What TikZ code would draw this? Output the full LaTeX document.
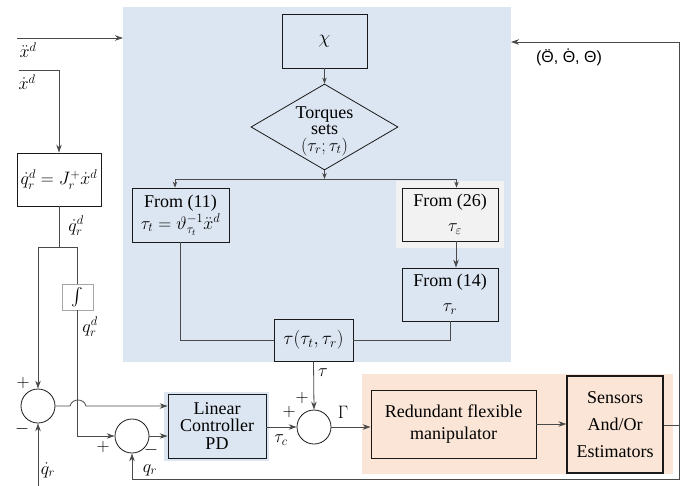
\RequirePackage{fix-cm}
\documentclass[tikz,border=0pt]{standalone}
\usepackage{graphicx}
\usepackage[no-math]{fontspec}
\setmainfont{Liberation Serif}
\setsansfont{Liberation Sans}
\usetikzlibrary{arrows.meta,shapes.geometric,calc}
\definecolor{bluebg}{HTML}{DCE6F2}
\definecolor{graybg}{HTML}{F2F2F2}
\definecolor{orangebg}{HTML}{FBE5D6}
\definecolor{wire}{HTML}{4A4A4A}
\newcommand\capacc[2]{\leavevmode\vbox{\offinterlineskip\ialign{\hfil##\hfil\cr\raisebox{-0.52em}[0pt][0pt]{#1}\cr#2\cr}}}
\begin{document}
\begin{tikzpicture}[x=1pt,y=-1pt,
  font=\fontsize{18}{18}\selectfont,
  blk/.style={draw=black!90, line width=0.8pt, align=center, inner sep=2pt},
  sumc/.style={draw=black!90, circle, line width=0.8pt, minimum size=34pt, inner sep=0pt},
  wr/.style={draw=wire, line width=0.8pt},
  arr/.style={wr, -{Stealth[length=8pt,width=5.5pt]}},
  sarr/.style={wr, -{Stealth[length=6pt,width=4.5pt]}},
  lbl/.style={inner sep=0pt}
]
\useasboundingbox (0,0) rectangle (692,486);
% backgrounds
\fill[bluebg] (123,7) rectangle (511,362);
\fill[graybg] (396,181) rectangle (504,248);
\fill[orangebg] (362,374) rectangle (673,474);
\fill[bluebg] (164,392) rectangle (269,461);

% nodes
\node[blk, minimum width=85pt, minimum height=54pt, font=\fontsize{19}{19}\selectfont] (chi) at (324.5,41) {$\chi$};
\node[diamond, draw=black!90, line width=0.8pt, minimum width=147pt, minimum height=86pt, inner sep=0pt] (dia) at (324.5,127) {};
\node[lbl, align=center, font=\fontsize{18}{16.5}\selectfont] (diat) at (324.5,131) {Torques\\sets\\$(\tau_r;\tau_t)$};
\node[blk, minimum width=97pt, minimum height=54pt, inner sep=1pt, font=\fontsize{18}{22}\selectfont] (f11) at (180.5,215) {From (11)\\$\tau_t=\vartheta_{\tau_t}^{-1}\ddot{x}^d$};
\node[blk, minimum width=96pt, minimum height=53pt, font=\fontsize{18}{25}\selectfont] (f26) at (450,214.5) {From (26)\\\hspace*{10pt}$\tau_\varepsilon$};
\node[blk, minimum width=96pt, minimum height=53pt, font=\fontsize{18}{25}\selectfont] (f14) at (450,294.5) {From (14)\\$\tau_r$};
\node[blk, minimum width=79pt, minimum height=42pt, font=\fontsize{19}{19}\selectfont] (tau) at (313.5,340) {$\tau(\tau_t,\tau_r)$};
\node[blk, minimum width=84pt, minimum height=53pt, inner sep=1pt] (qd) at (59,179.5) {$\dot{q}_r^d=J_r^+\dot{x}^d$};
\node[draw=black!35, line width=0.6pt, minimum width=31pt, minimum height=26pt, inner sep=0pt] (int) at (77.5,297) {\scalebox{1.75}{$\int$}};
\node[sumc] (s1) at (38,406) {};
\node[sumc] (s2) at (132,436) {};
\node[sumc] (s3) at (314,427) {};
\node[blk, minimum width=98pt, minimum height=64pt, font=\fontsize{18}{17.5}\selectfont] (ctrl) at (217,426) {Linear\\Controller\\PD};
\node[blk, minimum width=165pt, minimum height=68pt, font=\fontsize{18}{22}\selectfont] (man) at (453.5,424) {Redundant flexible\\manipulator};
\node[blk, line width=1.3pt, minimum width=96pt, minimum height=97pt, font=\fontsize{18}{27}\selectfont] (sens) at (615,424.5) {Sensors\\And/Or\\Estimators};

% coordinates
\coordinate (br) at (324.5,179);
\coordinate (xdd) at (17,38);
\coordinate (xddin) at (123,38);
\coordinate (xd) at (19,70);
\coordinate (split) at (59,247);
\coordinate (fb) at (679,425);
\coordinate (thin) at (511,42);
\coordinate (cr) at (679,479);
\coordinate (qdr) at (38,486);
\coordinate (j1) at (70,406);
\coordinate (j2) at (86,406);

% connectors in the blue area
\draw[sarr] (chi.south) -- (dia.north);
\draw[sarr] (dia.south) -- (br);
\draw[sarr] (br) -| ([xshift=-5.5pt]f11.north);
\draw[sarr] (br) -| ([xshift=6.5pt]f26.north);
\draw[arr] ([xshift=6pt]f26.south) -- ([xshift=6pt]f14.north);
\draw[wr] (f11.south) |- (tau.west);
\draw[wr] (f14.south) |- (tau.east);

% inputs
\draw[arr] (xdd) -- (xddin);
\draw[arr] (xd) -| (qd.north);
\draw[wr] (qd.south) -- (split);
\draw[arr] (split) -| (s1.north);
\draw[wr] (split) -| (int.north);
\draw[arr] (int.south) |- (s2.west);
\draw[arr] (qdr) -- (s1.south);

% loop
\draw[arr] (s1.east) -- (j1) .. controls (72,398) and (84,398) .. (j2) -- (ctrl.west |- s1.east);
\draw[arr] (s2.east) -- (ctrl.west |- s2.east);
\draw[arr] (ctrl.east |- s3.west) -- (s3.west);
\draw[arr] (tau.south) -- (s3.north);
\draw[arr] (s3.east) -- (man.west |- s3.east);
\draw[arr] (man.east) -- (sens.west |- man.east);
\draw[wr] (sens.east |- fb) -- (fb);
\draw[arr] (fb) |- (thin);
\draw[arr] (fb) -- (cr) -| (s2.south);

% labels
\node[lbl] (lxdd) at (28,50) {$\ddot{x}^d$};
\node[lbl] (lxd) at (27,82) {$\dot{x}^d$};
\node[lbl] (lqdd) at (76,226) {$\dot{q}_r^d$};
\node[lbl] (lqd) at (90,327) {$q_r^d$};
\node[lbl] (p1) at (23,383) {$+$};
\node[lbl] (m1) at (22,429) {$-$};
\node[lbl] (p2) at (103,447) {$+$};
\node[lbl] (m2) at (151,450) {$-$};
\node[lbl] (lqdr) at (48,470) {$\dot{q}_r$};
\node[lbl] (lqr) at (150,470) {$q_r$};
\node[lbl] (ltau) at (323,373) {$\tau$};
\node[lbl] (p3) at (302,398) {$+$};
\node[lbl] (lgam) at (343,412) {$\Gamma$};
\node[lbl] (p4) at (289,412) {$+$};
\node[lbl] (ltc) at (281,440) {$\tau_c$};
\node[lbl, font=\sffamily\fontsize{16}{16}\selectfont, anchor=base] (lth) at (569,63) {(\capacc{¨}{Θ}, \capacc{˙}{Θ}, Θ)};
\end{tikzpicture}
\end{document}
